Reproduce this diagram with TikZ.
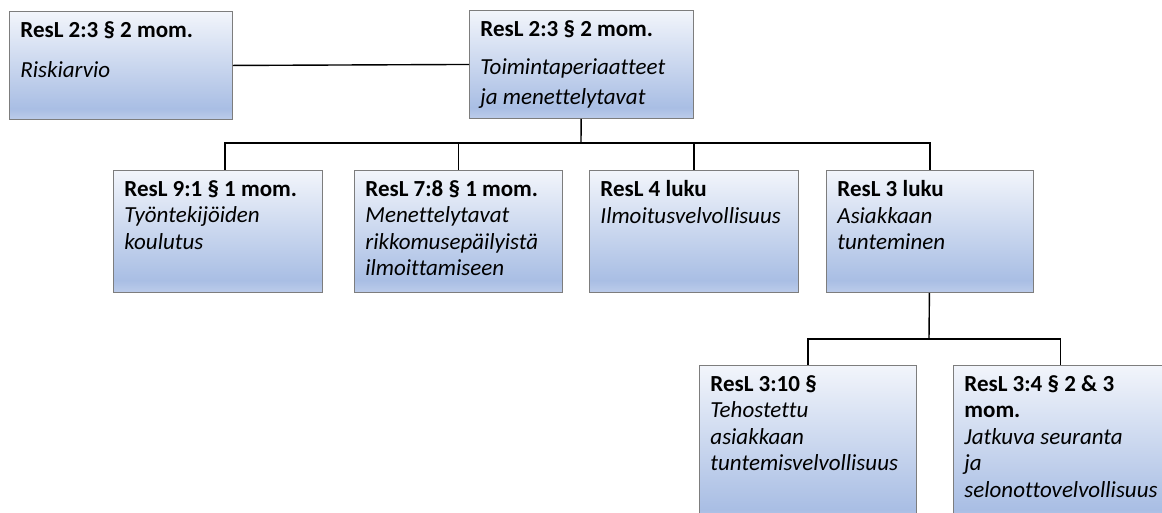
\documentclass[tikz,border=0pt]{standalone}
\usepackage{fontspec}
\setmainfont{Carlito}[Ligatures=NoCommon]
\usetikzlibrary{positioning}

\definecolor{boxtop}{RGB}{242,245,251}
\definecolor{boxdark}{RGB}{169,190,228}
\definecolor{boxbot}{RGB}{188,204,234}
\definecolor{boxline}{RGB}{125,125,125}
\pgfdeclareverticalshading{boxfill}{100bp}{color(0bp)=(boxbot); color(25bp)=(boxbot); color(30bp)=(boxdark); color(75bp)=(boxtop); color(100bp)=(boxtop)}

\newcommand{\boxtext}[3]{\parbox[t][#2pt][t]{#1pt}{\vspace*{10pt}#3}}
\tikzstyle{orgbox} = [rectangle, draw=boxline, line width=0.9pt, shade, shading=boxfill, anchor=north west, inner xsep=11pt, inner ysep=0pt, align=left, font=\fontsize{23}{26.5}\selectfont]
\tikzstyle{link} = [line width=1.4pt, black]

\begin{document}
\begin{tikzpicture}[x=1pt, y=-1pt]
    \useasboundingbox (0,0) rectangle (1162,512);
    \clip (0,0) rectangle (1162,512);
    % Nodes
    \node (risk) [orgbox] at (9,11) {\boxtext{201}{108}{\textbf{ResL 2:3 § 2 mom.}\\[14pt]\textit{Riskiarvio}}};
    \node (policy) [orgbox] at (469,10) {\boxtext{202}{108}{\textbf{ResL 2:3 § 2 mom.}\\[12pt]\textit{Toimintaperiaatteet}\\[3pt]\textit{ja menettelytavat}}};
    \node (train) [orgbox] at (113,170) {\boxtext{187}{122}{\textbf{ResL 9:1 § 1 mom.}\\\textit{Työntekijöiden}\\\textit{koulutus}}};
    \node (breach) [orgbox] at (354,170) {\boxtext{186}{122}{\textbf{ResL 7:8 § 1 mom.}\\\textit{Menettelytavat}\\\textit{rikkomusepäilyistä}\\\textit{ilmoittamiseen}}};
    \node (report) [orgbox] at (589,170) {\boxtext{187}{122}{\textbf{ResL 4 luku}\\\textit{Ilmoitusvelvollisuus}}};
    \node (kyc) [orgbox] at (826,170) {\boxtext{185}{122}{\textbf{ResL 3 luku}\\\textit{Asiakkaan}\\\textit{tunteminen}}};
    \node (edd) [orgbox] at (699,365) {\boxtext{195}{160}{\textbf{ResL 3:10 §}\\\textit{Tehostettu}\\\textit{asiakkaan}\\\textit{tuntemisvelvollisuus}}};
    \node (monitor) [orgbox] at (953,365) {\boxtext{192}{160}{\textbf{ResL 3:4 § 2 \& 3}\\\textbf{mom.}\\\textit{Jatkuva seuranta}\\\textit{ja}\\\textit{selonottovelvollisuus}}};
    \coordinate (bus1) at (581,143);
    \coordinate (bus2) at (929,339);

    % Lines
    \draw [link] (risk.east) -- (policy.west);
    \draw [link] (policy) -- (bus1);
    \draw [link] (bus1) -| ([xshift=7pt]train.north);
    \foreach \n in {breach, report, kyc}
        \draw [link] (bus1) -| (\n.north);
    \draw [link] (kyc) -- (bus2);
    \foreach \n in {edd, monitor}
        \draw [link] (bus2) -| (\n.north);
\end{tikzpicture}
\end{document}
